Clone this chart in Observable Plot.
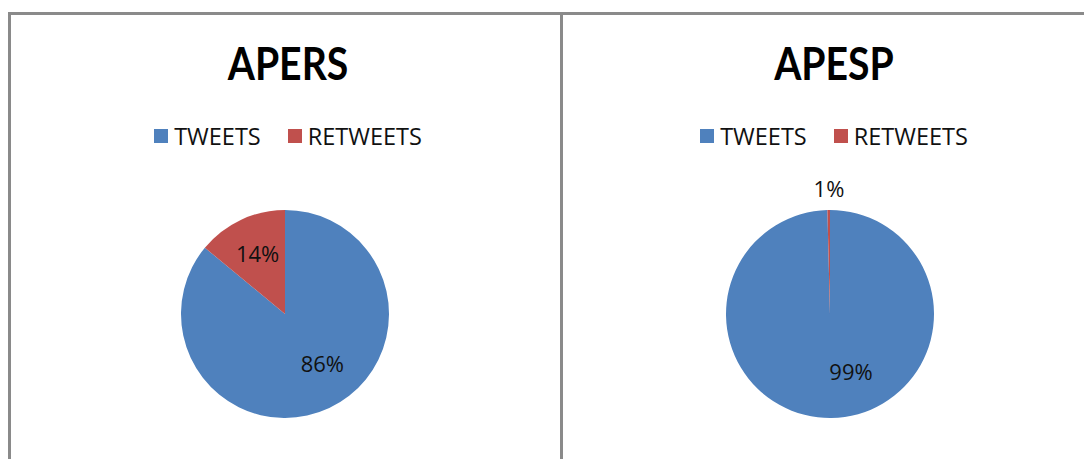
<!DOCTYPE html>
<html><head><meta charset="utf-8">
<script src="https://cdn.jsdelivr.net/npm/d3@7"></script>
<script src="https://cdn.jsdelivr.net/npm/@observablehq/plot@0.6"></script>
<style>
html,body{margin:0;padding:0;background:#fff;width:1084px;height:459px;overflow:hidden;}
.panel{position:absolute;top:12px;height:520px;box-sizing:border-box;border:3px solid #8a8a8a;background:#fff;}
.title{position:absolute;left:0;text-align:center;font-family:Lato,sans-serif;font-weight:700;font-size:45px;line-height:1;color:#000;white-space:nowrap;transform:scaleX(0.87);transform-origin:center;}
.legendbox{position:absolute;left:0;display:flex;justify-content:center;}
.lg-swatches{font-family:"Open Sans",sans-serif !important;font-size:23.5px !important;color:#111 !important;margin:0 !important;}
.lg-swatch{margin-right:27px !important;}
.lg-swatch:last-child{margin-right:0 !important;}
.lg-swatch > svg{margin-right:6px !important;}
svg.pie{position:absolute;left:0;}
</style></head><body><div id="root"></div>
<script>
// ---- data ----
const panelNames = ["APERS", "APESP"];
const categories = ["TWEETS", "RETWEETS"];
const colors = ["#4F81BD", "#C0504D"];
const apersValues = [86, 14];
const apespValues = [99.6, 0.4];
const apersLabels = ["86%", "14%"];
const apespLabels = ["99%", "1%"];

// ---- layout ----
const layout = [
  {left: 8, width: 555, innerW: 549, textCx: 277, pieCx: 274, turn: -11},
  {left: 560, width: 600, innerW: 560, textCx: 271, pieCx: 267, turn: -18.5}
];
const R = 104, svgTop = 145, svgH = 299, pieCy = 154;

const color = Plot.scale({color: {domain: categories, range: colors}});
const root = document.getElementById("root");

function makePanel(name, values, labels, L) {
  const panel = document.createElement("div");
  panel.className = "panel";
  panel.style.left = L.left + "px";
  panel.style.width = L.width + "px";
  root.appendChild(panel);

  const title = document.createElement("div");
  title.className = "title";
  title.textContent = name;
  title.style.width = (2 * L.textCx) + "px";
  title.style.top = "26px";
  panel.appendChild(title);

  const lbox = document.createElement("div");
  lbox.className = "legendbox";
  lbox.style.width = (2 * L.textCx) + "px";
  lbox.style.top = "104px";
  lbox.appendChild(Plot.legend({color: {domain: categories, range: colors}, swatchSize: 14, className: "lg"}));
  panel.appendChild(lbox);

  const rows = categories.map((c, i) => ({category: c, value: values[i], label: labels[i]}));
  const total = d3.sum(rows, d => d.value);
  const arcs = d3.pie().sort(null).value(d => d.value).startAngle(0).endAngle(2 * Math.PI)(rows);
  const labelData = arcs.map(a => {
    const frac = a.data.value / total;
    let ang = (a.startAngle + a.endAngle) / 2;
    let r = 0.63;
    if (frac < 0.05) r = 1.2;
    else if (frac > 0.5) { ang += L.turn * Math.PI / 180; r = 0.6; }
    return {label: a.data.label, x: r * Math.sin(ang), y: r * Math.cos(ang)};
  });

  const pieMark = (index, scales) => {
    const cx = scales.x(0), cy = scales.y(0), r = scales.x(1) - scales.x(0);
    const g = d3.create("svg:g").attr("transform", `translate(${cx},${cy})`);
    const arc = d3.arc().innerRadius(0).outerRadius(r);
    g.selectAll("path").data(arcs).join("path")
      .attr("d", arc)
      .attr("fill", d => color.apply(d.data.category));
    return g.node();
  };

  const chart = Plot.plot({
    width: L.innerW, height: svgH, margin: 0,
    style: {background: "transparent", overflow: "visible"},
    x: {domain: [-1, 1], range: [L.pieCx - R, L.pieCx + R], axis: null},
    y: {domain: [-1, 1], range: [pieCy + R, pieCy - R], axis: null},
    marks: [
      pieMark,
      Plot.text(labelData, {x: "x", y: "y", text: "label", fontSize: 22, fontFamily: "Open Sans", fill: "#111"})
    ]
  });
  chart.classList.add("pie");
  chart.style.top = svgTop + "px";
  panel.appendChild(chart);
}

makePanel(panelNames[0], apersValues, apersLabels, layout[0]);
makePanel(panelNames[1], apespValues, apespLabels, layout[1]);
</script>
</body></html>
